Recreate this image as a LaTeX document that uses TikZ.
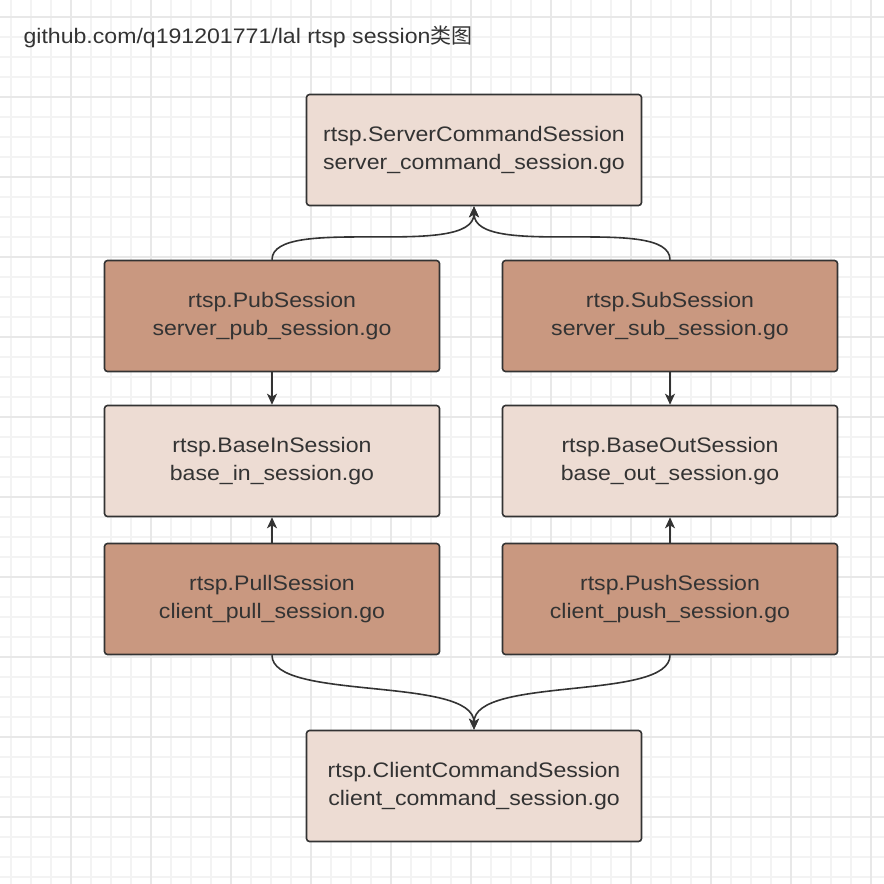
\documentclass[tikz,border=0pt]{standalone}
\usepackage{fontspec}
\setmainfont[FakeStretch=1.1]{Liberation Sans}
\newfontfamily\cjk{Noto Sans CJK SC}
\usepackage{xcolor}
\usetikzlibrary{arrows.meta,positioning}

\definecolor{gridminor}{HTML}{F3F3F3}
\definecolor{gridmajor}{HTML}{E8E8E8}
\definecolor{boxline}{HTML}{333333}
\definecolor{lightfill}{HTML}{EDDCD3}
\definecolor{darkfill}{HTML}{C99880}

\tikzset{
  cls/.style={rectangle,rounded corners=3pt,draw=boxline,line width=1.6pt,
    minimum width=335pt,minimum height=111pt,align=center,text=boxline,
    font=\fontsize{21}{28}\selectfont},
  light/.style={cls,fill=lightfill},
  dark/.style={cls,fill=darkfill},
  link/.style={draw=boxline,line width=1.6pt,-{Stealth[length=11pt,width=10pt,inset=3pt]}}
}

\begin{document}
\begin{tikzpicture}[x=1pt,y=-1pt,on grid]
  \useasboundingbox[fill=white] (0,0) rectangle (884,884);
  % background grid
  \foreach \k in {0,...,43} {
    \draw[gridminor,line width=1.5pt] (11+20*\k,0) -- (11+20*\k,884);
    \draw[gridminor,line width=1.5pt] (0,17+20*\k) -- (884,17+20*\k);
  }
  \foreach \k in {0,...,10} {
    \draw[gridmajor,line width=2pt] (71+80*\k,0) -- (71+80*\k,884);
    \draw[gridmajor,line width=2pt] (0,17+80*\k) -- (884,17+80*\k);
  }

  \node[anchor=west,text=boxline,font=\fontsize{21}{24}\selectfont] (title) at (20,37)
    {github.com/q191201771/lal rtsp session{\cjk 类图}};

  \node[light] (srv_cmd) at (474,150) {rtsp.ServerCommandSession\\server\_command\_session.go};
  \node[dark]  (pub)      [below left=166pt and 202pt of srv_cmd] {rtsp.PubSession\\server\_pub\_session.go};
  \node[dark]  (sub)      [right=398pt of pub]     {rtsp.SubSession\\server\_sub\_session.go};
  \node[light] (base_in)  [below=145pt of pub]     {rtsp.BaseInSession\\base\_in\_session.go};
  \node[light] (base_out) [right=398pt of base_in] {rtsp.BaseOutSession\\base\_out\_session.go};
  \node[dark]  (pull)     [below=138pt of base_in] {rtsp.PullSession\\client\_pull\_session.go};
  \node[dark]  (push)     [right=398pt of pull]    {rtsp.PushSession\\client\_push\_session.go};
  \node[light] (cli_cmd)  [below right=187pt and 202pt of pull] {rtsp.ClientCommandSession\\client\_command\_session.go};

  % server side
  \draw[link] (pub.north) .. controls +(0,-46) and +(0,54) .. (srv_cmd.south);
  \draw[link] (sub.north) .. controls +(0,-46) and +(0,54) .. (srv_cmd.south);
  \draw[link] (pub) -- (base_in);
  \draw[link] (sub) -- (base_out);
  % client side
  \draw[link] (pull) -- (base_in);
  \draw[link] (push) -- (base_out);
  \draw[link] (pull.south) .. controls +(0,46) and +(0,-54) .. (cli_cmd.north);
  \draw[link] (push.south) .. controls +(0,46) and +(0,-54) .. (cli_cmd.north);
\end{tikzpicture}
\end{document}
